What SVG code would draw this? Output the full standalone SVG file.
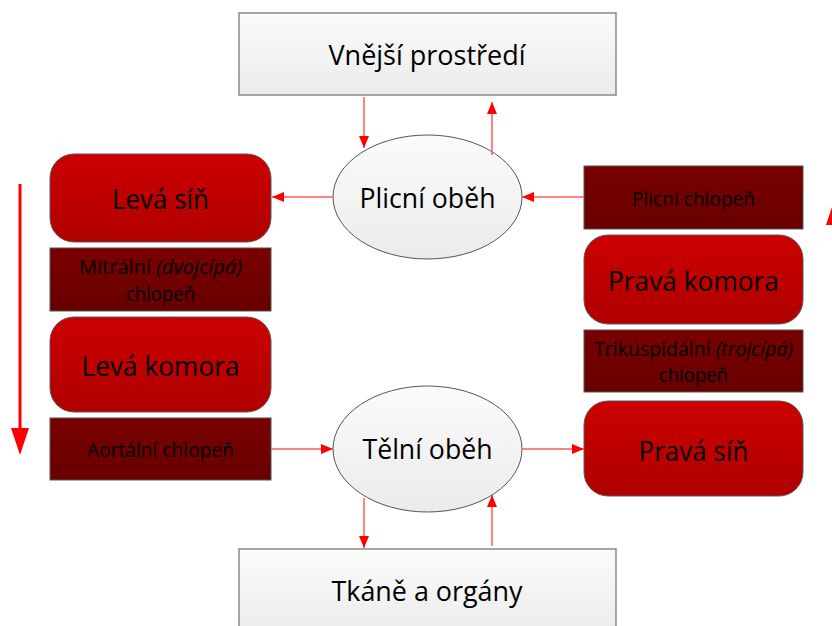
<svg xmlns="http://www.w3.org/2000/svg" width="832" height="626" viewBox="0 0 832 626">
<defs>
<linearGradient id="gGray" x1="0" y1="0" x2="0" y2="1"><stop offset="0" stop-color="#fbfbfb"/><stop offset="1" stop-color="#ebebeb"/></linearGradient>
<linearGradient id="gRed" x1="0" y1="0" x2="0" y2="1"><stop offset="0" stop-color="#cc0000"/><stop offset="1" stop-color="#b00000"/></linearGradient>
<linearGradient id="gDark" x1="0" y1="0" x2="0" y2="1"><stop offset="0" stop-color="#7a0000"/><stop offset="1" stop-color="#680000"/></linearGradient>
<marker id="ah" markerWidth="12" markerHeight="10" refX="12" refY="5" orient="auto" markerUnits="userSpaceOnUse"><path d="M0,0 L12,5 L0,10 Z" fill="#ff0000"/></marker>
<style>
.box{fill:url(#gGray);stroke:#8a8a8a;stroke-width:1.5}
.ell{fill:url(#gGray);stroke:#555;stroke-width:1}
.red{fill:url(#gRed);stroke:#5a5a5a;stroke-width:1}
.dark{fill:url(#gDark);stroke:#555;stroke-width:1}
text{font-family:"Open Sans","Noto Sans",sans-serif;fill:#000;text-anchor:middle;dominant-baseline:central}
.big{font-size:28px}
.sm{font-size:19.5px}
.con{stroke:#ff5a5a;stroke-width:1.5;fill:none;marker-end:url(#ah)}
</style>
</defs>
<g id="vnejsi"><rect class="box" x="239" y="13" width="377" height="82"/><text class="big" x="427" y="54" textLength="197" lengthAdjust="spacingAndGlyphs">Vnější prostředí</text></g>
<g id="tkane"><rect class="box" x="239" y="549" width="377" height="90"/><text class="big" x="427" y="590" textLength="191" lengthAdjust="spacingAndGlyphs">Tkáně a orgány</text></g>
<g id="plicni-obeh"><ellipse class="ell" cx="427.5" cy="197" rx="94.5" ry="62"/><text class="big" x="427.5" y="197" textLength="136" lengthAdjust="spacingAndGlyphs">Plicní oběh</text></g>
<g id="telni-obeh"><ellipse class="ell" cx="427.5" cy="449" rx="94.5" ry="63"/><text class="big" x="427.5" y="448" textLength="130" lengthAdjust="spacingAndGlyphs">Tělní oběh</text></g>
<g id="leva-sin"><rect class="red" x="50" y="154" width="221" height="88" rx="24"/><text class="big" x="160.5" y="198" textLength="97" lengthAdjust="spacingAndGlyphs">Levá síň</text></g>
<g id="mitralni"><rect class="dark" x="50" y="248" width="221" height="63"/><text class="sm" x="160.5" y="266" textLength="163" lengthAdjust="spacingAndGlyphs">Mitrální <tspan font-style="italic">(dvojcípá)</tspan></text><text class="sm" x="160.5" y="293" textLength="69" lengthAdjust="spacingAndGlyphs">chlopeň</text></g>
<g id="leva-komora"><rect class="red" x="50" y="317" width="221" height="95" rx="24"/><text class="big" x="160.5" y="365" textLength="158" lengthAdjust="spacingAndGlyphs">Levá komora</text></g>
<g id="aortalni"><rect class="dark" x="50" y="418" width="221" height="62"/><text class="sm" x="160.5" y="449" textLength="147" lengthAdjust="spacingAndGlyphs">Aortální chlopeň</text></g>
<g id="plicni-chlopen"><rect class="dark" x="584" y="166" width="219" height="63"/><text class="sm" x="693.5" y="198" textLength="123" lengthAdjust="spacingAndGlyphs">Plicní chlopeň</text></g>
<g id="prava-komora"><rect class="red" x="584" y="235" width="219" height="89" rx="24"/><text class="big" x="693.5" y="280" textLength="171" lengthAdjust="spacingAndGlyphs">Pravá komora</text></g>
<g id="trikuspidalni"><rect class="dark" x="584" y="330" width="219" height="62"/><text class="sm" x="693.5" y="348" textLength="199" lengthAdjust="spacingAndGlyphs">Trikuspidální <tspan font-style="italic">(trojcípá)</tspan></text><text class="sm" x="693.5" y="374" textLength="69" lengthAdjust="spacingAndGlyphs">chlopeň</text></g>
<g id="prava-sin"><rect class="red" x="584" y="401" width="219" height="95" rx="24"/><text class="big" x="693.5" y="450" textLength="110" lengthAdjust="spacingAndGlyphs">Pravá síň</text></g>
<g id="connectors">
<line class="con" x1="364" y1="97" x2="364" y2="148"/>
<line class="con" x1="492" y1="155" x2="492" y2="102"/>
<line class="con" x1="333" y1="197" x2="272" y2="197"/>
<line class="con" x1="584" y1="197" x2="522" y2="197"/>
<line class="con" x1="271" y1="449" x2="333" y2="449"/>
<line class="con" x1="522" y1="449" x2="584" y2="449"/>
<line class="con" x1="364" y1="498" x2="364" y2="548"/>
<line class="con" x1="492" y1="546" x2="492" y2="495"/>
<line x1="20" y1="184" x2="20" y2="430" stroke="#ff0000" stroke-width="3"/>
<polygon points="11,428 29,428 20,455" fill="#ff0000"/>
<line x1="835" y1="224" x2="835" y2="460" stroke="#ff0000" stroke-width="3"/>
<polygon points="826,225 844,225 835,198" fill="#ff0000"/>
</g>
</svg>
